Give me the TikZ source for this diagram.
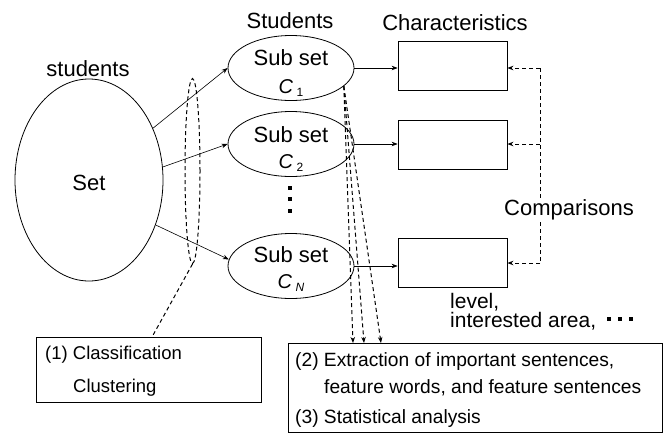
\documentclass[tikz,border=0pt]{standalone}
\usepackage{fontspec}
\setmainfont{Liberation Sans}
\usetikzlibrary{shapes.geometric,arrows.meta}
\tikzset{
 lab/.style={font=\fontsize{22}{24}\selectfont, inner sep=0pt, anchor=base},
 txt/.style={font=\fontsize{19.2}{21}\selectfont, inner sep=0pt, anchor=base west},
 subell/.style={draw, ellipse, minimum width=126pt, minimum height=65pt, inner sep=0pt, line width=0.8pt},
 charbox/.style={draw, minimum width=109pt, minimum height=49pt, inner sep=0pt, line width=0.8pt},
 arr/.style={-{Stealth[length=6pt,width=4.5pt]}, line width=0.6pt},
 dsh/.style={dash pattern=on 4pt off 3pt, line width=1pt},
 darr/.style={dsh, -{Stealth[length=6pt,width=4.5pt]}},
 sq/.style={fill=black, minimum size=4pt, inner sep=0pt},
}
\newcommand{\Cs}[1]{\fontsize{20}{22}\selectfont\textit{C}\,\raisebox{-3pt}{\fontsize{12}{12}\selectfont #1}}
\begin{document}
\begin{tikzpicture}[x=1pt,y=-1pt]
\useasboundingbox (0,0) rectangle (663,434);
% big set
\node[draw, ellipse, minimum width=148pt, minimum height=202pt, inner sep=0pt, line width=0.8pt] (set) at (89,180) {};
\node[lab] (setT) at (89,190) {Set};
\node[lab] (stud) at (88,76) {students};
\node[lab] (Stud) at (290,28) {Students};
\node[lab] (char) at (455,30) {Characteristics};
% subsets
\node[subell] (C1) at (291,68) {};
\node[subell] (C2) at (291,144) {};
\node[subell] (CN) at (291,266) {};
\node[lab] (C1a) at (291,65) {Sub set};
\node[lab] (C1b) at (291,93) {\Cs{1}};
\node[lab] (C2a) at (291,142) {Sub set};
\node[lab] (C2b) at (291,168) {\Cs{2}};
\node[lab] (CNa) at (291,262) {Sub set};
\node[lab] (CNb) at (291,288) {\Cs{\textit{N}}};
\node[sq] (v1) at (290,188) {};
\node[sq] (v2) at (290,199) {};
\node[sq] (v3) at (290,211) {};
% characteristic boxes
\node[charbox] (ch1) at (452.5,65.5) {};
\node[charbox] (ch2) at (452.5,145) {};
\node[charbox] (ch3) at (452.5,263) {};
% arrows set -> subsets
\draw[arr] (set.39.6) -- (C1.west);
\draw[arr] (set.10.7) -- (C2.west);
\draw[arr] (set.-34.9) -- (CN.174);
% subsets -> boxes
\draw[arr] (C1.east) -- (C1.east -| ch1.west);
\draw[arr] (C2.east) -- (C2.east -| ch2.west);
\draw[arr] (CN.east) -- (CN.east -| ch3.west);
% comparisons
\coordinate (k1) at (540,68);
\coordinate (k2) at (540,144);
\coordinate (k3) at (540,263);
\draw[dsh] (k1) -- (k3);
\draw[darr] (k1) -- (k1 -| ch1.east);
\draw[darr] (k2) -- (k2 -| ch2.east);
\draw[darr] (k3) -- (k3 -| ch3.east);
\node[lab, fill=white, inner sep=1pt] (cmp) at (569,215) {Comparisons};
% level
\node[txt, font=\fontsize{21}{23}\selectfont] (lvl) at (450,308) {level,};
\node[txt, font=\fontsize{21}{23}\selectfont] (ia) at (450,327) {interested area,};
\node[sq] (h1) at (609,319) {};
\node[sq] (h2) at (620,319) {};
\node[sq] (h3) at (631,319) {};
% grouping ellipse
\node[draw, ellipse, dsh, minimum width=15pt, minimum height=185pt, inner sep=0pt] (grp) at (192.5,171) {};
% box 1
\node[draw, minimum width=225pt, minimum height=65pt, inner sep=0pt, line width=0.8pt] (bx1) at (148.5,369.5) {};
\node[txt, font=\fontsize{18.5}{20}\selectfont] (t1) at (45,359) {(1) Classification};
\node[txt, font=\fontsize{18.5}{20}\selectfont] (t1b) at (73,392) {Clustering};
\coordinate (g1) at (152,337);
\draw[dsh] (grp.south) -- (g1);
% box 2
\node[draw, minimum width=374pt, minimum height=89pt, inner sep=0pt, line width=0.8pt] (bx2) at (475,387.5) {};
\node[txt] (t2) at (295,366) {(2) Extraction of important sentences,};
\node[txt] (t2b) at (324,393) {feature words, and feature sentences};
\node[txt] (t3) at (295,423) {(3) Statistical analysis};
\coordinate (e1) at (353,343);
\coordinate (e2) at (364,343);
\coordinate (e3) at (381,343);
\draw[darr] (C1.-19) -- (e1);
\draw[darr] (C1.-19) -- (e2);
\draw[darr] (C1.-19) -- (e3);
\end{tikzpicture}
\end{document}
